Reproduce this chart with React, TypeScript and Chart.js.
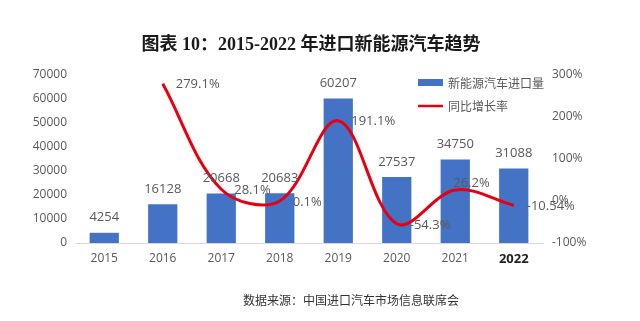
import React, { useEffect, useRef } from "react";
import { Chart, registerables } from "chart.js";

Chart.register(...registerables);

const years = ["2015", "2016", "2017", "2018", "2019", "2020", "2021", "2022"];
const importVolume = [4254, 16128, 20668, 20683, 60207, 27537, 34750, 31088];
const growthRate: (number | null)[] = [null, 279.1, 28.1, 0.1, 191.1, -54.3, 26.2, -10.54];
const growthLabels = ["", "279.1%", "28.1%", "0.1%", "191.1%", "-54.3%", "26.2%", "-10.54%"];
const volumeName = "新能源汽车进口量";
const rateName = "同比增长率";
const titleText = "图表 10：2015-2022 年进口新能源汽车趋势";
const sourceText = "数据来源：中国进口汽车市场信息联席会";

const BLUE = "#4472C4";
const RED = "#E60012";
const GRAY = "#595959";
const SANS = '"Open Sans", "Noto Sans CJK SC", sans-serif';

const overlay = {
  id: "overlay",
  afterDatasetsDraw(chart: any) {
    const ctx = chart.ctx;
    ctx.save();
    ctx.font = `13px ${SANS}`;
    ctx.fillStyle = GRAY;
    ctx.textBaseline = "middle";
    const barMeta = chart.getDatasetMeta(1);
    ctx.textAlign = "center";
    barMeta.data.forEach((bar: any, i: number) => {
      ctx.fillText(String(importVolume[i]), bar.x, bar.y - 15);
    });
    const lineMeta = chart.getDatasetMeta(0);
    ctx.textAlign = "left";
    lineMeta.data.forEach((pt: any, i: number) => {
      if (growthRate[i] === null) return;
      if (i === 6) {
        ctx.fillText(growthLabels[i], pt.x - 2, pt.y - 7);
      } else {
        ctx.fillText(growthLabels[i], pt.x + 13, pt.y + 1);
      }
    });
    ctx.restore();
  },
  afterDraw(chart: any) {
    const ctx = chart.ctx;
    ctx.save();
    // title
    ctx.fillStyle = "#1a1a1a";
    ctx.font = `bold 18px "Liberation Serif", "Noto Sans CJK SC", serif`;
    ctx.textAlign = "center";
    ctx.textBaseline = "middle";
    ctx.fillText(titleText, 311, 45);
    // source
    ctx.fillStyle = "#333333";
    ctx.font = `12px "Noto Sans CJK SC", sans-serif`;
    ctx.fillText(sourceText, 351, 300);
    // legend
    ctx.fillStyle = BLUE;
    ctx.fillRect(418, 79, 25, 7);
    ctx.strokeStyle = RED;
    ctx.lineWidth = 2.5;
    ctx.beginPath();
    ctx.moveTo(418, 106);
    ctx.lineTo(443, 106);
    ctx.stroke();
    ctx.fillStyle = GRAY;
    ctx.font = `12px "Noto Sans CJK SC", sans-serif`;
    ctx.textAlign = "left";
    ctx.fillText(volumeName, 448, 83);
    ctx.fillText(rateName, 448, 106);
    ctx.restore();
  },
};

export default function App() {
  const ref = useRef<HTMLCanvasElement>(null);
  useEffect(() => {
    if (!ref.current) return;
    const chart = new Chart(ref.current, {
      type: "bar",
      data: {
        labels: years,
        datasets: [
          {
            type: "line",
            label: rateName,
            data: growthRate,
            yAxisID: "yR",
            borderColor: RED,
            borderWidth: 3,
            pointRadius: 0,
            tension: 0.35,
            fill: false,
            order: 0,
          } as any,
          {
            type: "bar",
            label: volumeName,
            data: importVolume,
            yAxisID: "y",
            backgroundColor: BLUE,
            barPercentage: 0.5,
            categoryPercentage: 1,
            order: 1,
          },
        ],
      },
      options: {
        responsive: false,
        animation: false,
        devicePixelRatio: 1,
        layout: { padding: { top: 75, left: 0, right: 0, bottom: 0 } },
        plugins: {
          legend: { display: false },
          title: { display: false },
          tooltip: { enabled: false },
        },
        scales: {
          x: {
            grid: { display: false, drawTicks: false },
            border: { display: true, color: "#D9D9D9", width: 1 },
            ticks: {
              padding: 8,
              color: (c: any) => (c.index === 7 ? "#222222" : GRAY),
              font: (c: any) =>
                c.index === 7
                  ? { size: 13, weight: "bold", family: SANS }
                  : { size: 12, family: SANS },
            },
            afterFit: (s: any) => {
              s.height = 78;
            },
          },
          y: {
            position: "left",
            min: 0,
            max: 70000,
            grid: { display: false, drawTicks: false },
            border: { display: false },
            ticks: {
              stepSize: 10000,
              padding: 8,
              color: GRAY,
              font: { size: 12, family: SANS },
              callback: (v: any) => String(v),
            },
            afterFit: (s: any) => {
              s.width = 75;
            },
          },
          yR: {
            position: "right",
            min: -100,
            max: 300,
            grid: { display: false, drawTicks: false },
            border: { display: false },
            ticks: {
              stepSize: 100,
              padding: 9,
              color: GRAY,
              font: { size: 12, family: SANS },
              callback: (v: any) => `${v}%`,
            },
            afterFit: (s: any) => {
              s.width = 97;
            },
          },
        },
      },
      plugins: [overlay],
    });
    return () => chart.destroy();
  }, []);
  return (
    <div style={{ position: "absolute", left: 0, top: 0, width: 640, height: 321, background: "#fff" }}>
      <canvas ref={ref} width={640} height={321} />
    </div>
  );
}
